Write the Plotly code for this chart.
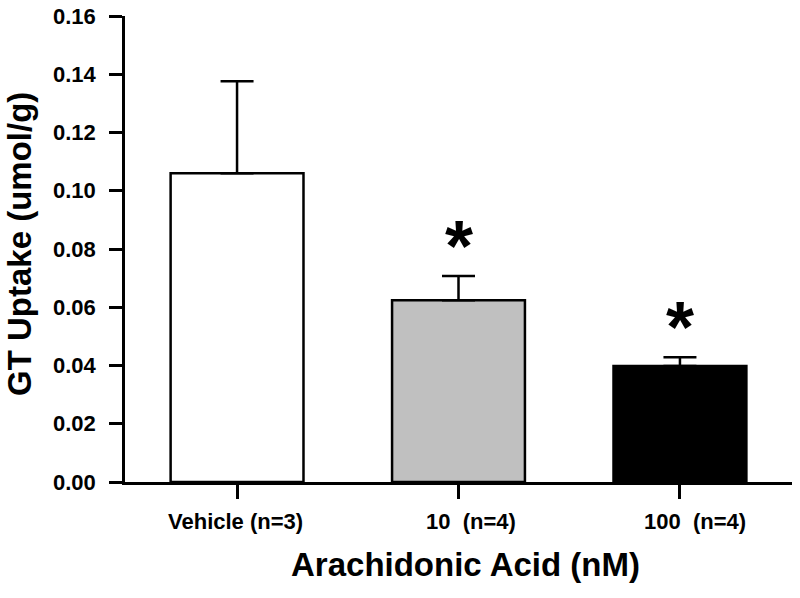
import plotly.graph_objects as go

categories = ["Vehicle (n=3)", "10\u00a0\u00a0(n=4)", "100\u00a0\u00a0(n=4)"]
means = [0.106, 0.0624, 0.0398]
sems = [0.0316, 0.0083, 0.0030]
significant = [False, True, True]
bar_colors = ["#ffffff", "#c0c0c0", "#000000"]
y_ticks = [0.00, 0.02, 0.04, 0.06, 0.08, 0.10, 0.12, 0.14, 0.16]

FONT = "Liberation Sans, Arial, sans-serif"
x_pos = list(range(len(categories)))

fig = go.Figure()
fig.add_trace(go.Bar(
    x=x_pos, y=means, width=0.6,
    marker=dict(color=bar_colors, line=dict(color="black", width=2.5)),
    error_y=dict(type="data", array=sems, arrayminus=[0] * len(sems), symmetric=False,
                 color="black", thickness=2.5, width=16.5),
    showlegend=False, hoverinfo="skip",
))

annotations = []
# category labels
label_shift = [-2, 12, 15]
for i, c in enumerate(categories):
    annotations.append(dict(x=i, y=0, xref="x", yref="paper", text=f"<b>{c}</b>", showarrow=False,
                            xanchor="center", yanchor="middle", xshift=label_shift[i], yshift=-39,
                            font=dict(family=FONT, size=22, color="black")))
# significance stars
for i, s in enumerate(significant):
    if s:
        annotations.append(dict(x=i, y=means[i] + sems[i], xref="x", yref="y", text="<b>*</b>",
                                showarrow=False, xanchor="center", yanchor="middle", yshift=30,
                                font=dict(family=FONT, size=72, color="black")))
# axis titles
annotations.append(dict(x=0.5, y=0, xref="paper", yref="paper", text="<b>Arachidonic Acid (nM)</b>",
                        showarrow=False, xanchor="center", yanchor="middle", xshift=7, yshift=-82,
                        font=dict(family=FONT, size=33, color="black")))
annotations.append(dict(x=0, y=0.5, xref="paper", yref="paper", text="<b>GT Uptake (umol/g)</b>",
                        showarrow=False, xanchor="center", yanchor="middle", textangle=-90,
                        xshift=-106, yshift=5,
                        font=dict(family=FONT, size=33, color="black")))

fig.update_layout(
    width=800, height=598,
    margin=dict(l=125, r=8, t=16, b=116, autoexpand=False),
    plot_bgcolor="white", paper_bgcolor="white",
    font=dict(family=FONT, color="black"),
    annotations=annotations,
    bargap=0.4,
)
fig.update_xaxes(range=[-0.506, 2.506], tickvals=x_pos, ticktext=categories, showticklabels=False,
                 showline=True, linecolor="black", linewidth=2.5, ticks="outside", ticklen=14,
                 tickwidth=2.5, tickcolor="black", showgrid=False, zeroline=False, automargin=False)
fig.update_yaxes(range=[0, 0.16], tickvals=y_ticks, ticktext=[f"<b>{v:.2f}</b>" for v in y_ticks],
                 showline=True, linecolor="black", linewidth=2.5, ticks="outside", ticklen=13,
                 tickwidth=2.5, tickcolor="black", showgrid=False, zeroline=False, automargin=False,
                 tickfont=dict(family=FONT, size=22, color="black"), ticklabelstandoff=9)

fig.write_html("out.html", config={"displayModeBar": False},
               post_script="document.body.style.margin='0';document.body.style.overflow='hidden';")
